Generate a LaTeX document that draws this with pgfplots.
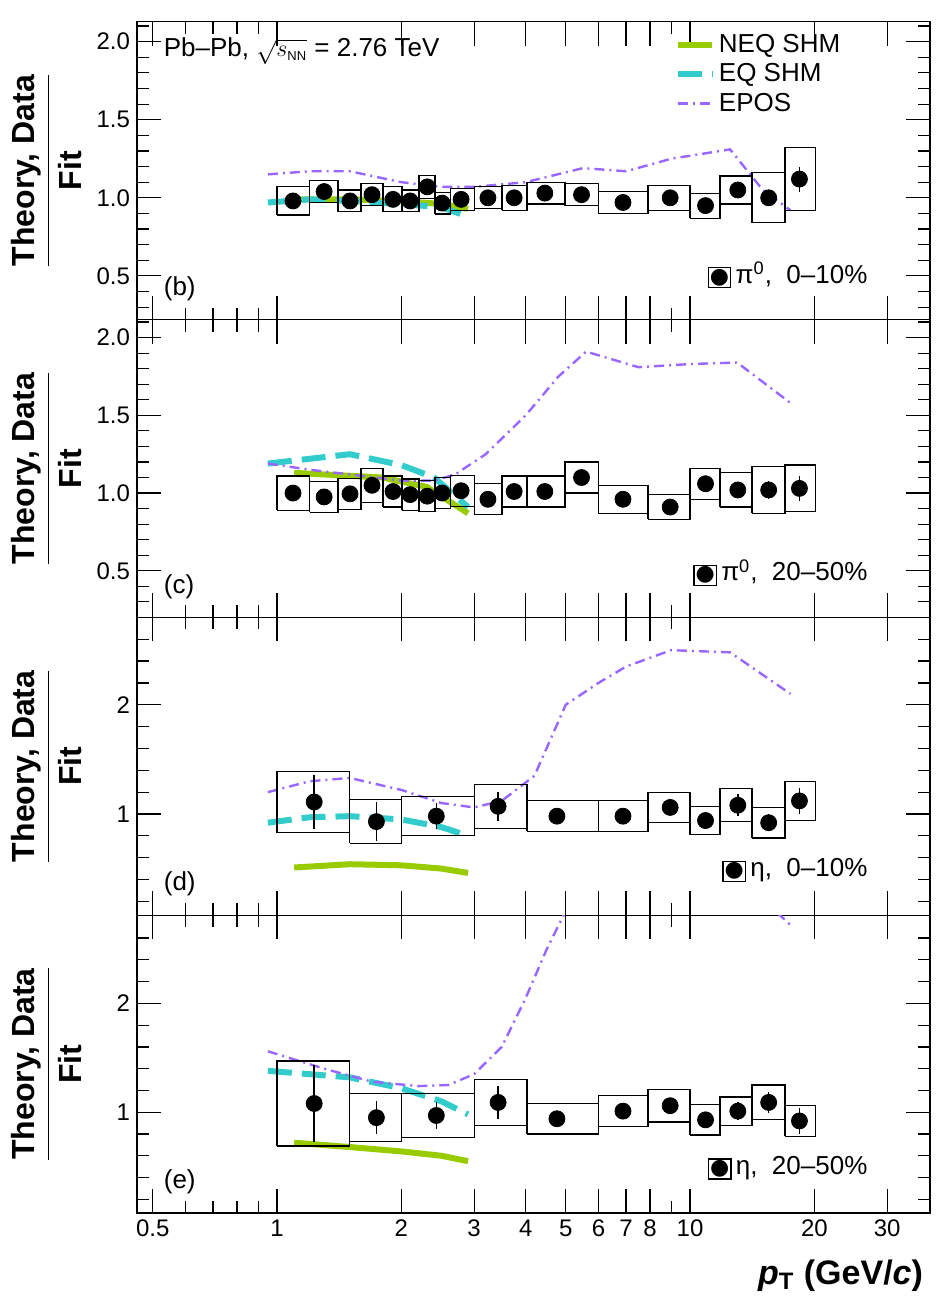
\documentclass[border=0pt]{standalone}
\usepackage{pgfplots}
\pgfplotsset{compat=1.18}
\usepgfplotslibrary{groupplots}
\usepackage{fontspec}
\setmainfont{Liberation Sans}
\newfontfamily\dejavu{DejaVu Sans}
\definecolor{neq}{HTML}{99CC00}
\definecolor{eq}{HTML}{33CCCC}
\definecolor{epos}{HTML}{9966FF}
\makeatletter
\newcommand\sbx[4]{\edef\blo{\strip@pt\dimexpr#3pt-#4pt\relax}\edef\bhi{\strip@pt\dimexpr#3pt+#4pt\relax}%
\edef\btmp{\noexpand\addplot[black,line width=0.6pt,forget plot,line join=miter] coordinates {(#1,\blo)(#2,\blo)(#2,\bhi)(#1,\bhi)(#1,\blo)};}\btmp}
\makeatother
\newcommand\lab[1]{\node[anchor=east,font=\fontsize{13}{15}\selectfont] at (rel axis cs:0.93,0.15) {{\setlength\fboxsep{0.5pt}\setlength\fboxrule{0.6pt}\fbox{\dejavu\fontsize{11}{11}\selectfont ●}}\,#1};}
\pgfplotsset{
 every axis/.append style={font=\fontsize{12}{14}\selectfont},
 dat/.style={only marks, mark=*, mark size=4pt, black, error bars/y dir=both, error bars/y explicit, error bars/error bar style={line width=0.8pt}, error bars/error mark=none},
 cneq/.style={neq, line width=3pt},
 ceq/.style={eq, line width=3pt, dash pattern=on 12pt off 5pt},
 cepos/.style={epos, line width=1.2pt, dash pattern=on 5pt off 2.5pt on 1pt off 2.5pt},
}
\begin{document}
\begin{tikzpicture}
\begin{pgfinterruptboundingbox}
\begin{groupplot}[group style={group size=1 by 4, vertical sep=0pt, xticklabels at=edge bottom},
 width=396.5pt, height=148.9pt, scale only axis,
 xmode=log, xmin=0.458, xmax=38.1, log basis x=10,
 xtick={0.5,1,2,3,4,5,6,7,8,10,20,30},
 xticklabels={0.5,1,2,3,4,5,6,7,8,10,20,30},
 minor xtick={0.6,0.7,0.8,0.9,9},
 tick align=inside, major tick length=12pt, minor tick length=6pt,
 xtick pos=both, ytick pos=both,
 /pgf/number format/assume math mode=true,
 yticklabel style={/pgf/number format/fixed,/pgf/number format/fixed zerofill,/pgf/number format/precision=1},
 ylabel={$\displaystyle\frac{\textbf{Theory, Data}}{\textbf{Fit}}$},
 ylabel style={font=\fontsize{16}{18}\selectfont\bfseries, at={(axis description cs:-0.168,0.5)}, anchor=north},
 axis line style={line width=0.6pt}, every tick/.style={line width=0.6pt, black}]
%% panel b
\nextgroupplot[ymin=0.22, ymax=2.127, ytick={0.5,1,1.5,2}, minor ytick={0.3,0.4,0.6,0.7,0.8,0.9,1.1,1.2,1.3,1.4,1.6,1.7,1.8,1.9,2.1},
 legend style={draw=none, fill=none, at={(axis description cs:0.9,0.985)}, anchor=north east, font=\fontsize{13}{13}\selectfont},
 legend cell align=left]
\addplot[cneq] coordinates {(1.1,0.99)(1.5,0.99)(2,0.98)(2.5,0.96)(2.9,0.93)};
\addlegendentry{NEQ SHM}
\addplot[ceq] coordinates {(0.95,0.97)(1.2,0.99)(1.5,0.98)(2,0.96)(2.5,0.94)(2.9,0.88)};
\addlegendentry{EQ SHM}
\addplot[cepos] coordinates {(0.95,1.15)(1.2,1.17)(1.5,1.17)(2,1.10)(2.5,1.07)(3,1.07)(4,1.1)(5.5,1.19)(7,1.17)(9,1.25)(12.5,1.31)(15,1.05)(17.5,0.92)};
\addlegendentry{EPOS}
\sbx{1.0}{1.2}{0.98}{0.09}\sbx{1.2}{1.405}{1.04}{0.07}\sbx{1.405}{1.597}{0.98}{0.07}\sbx{1.597}{1.806}{1.02}{0.07}
\sbx{1.806}{2.007}{0.99}{0.08}\sbx{2.007}{2.207}{0.98}{0.07}\sbx{2.207}{2.413}{1.07}{0.075}\sbx{2.413}{2.624}{0.966}{0.07}
\sbx{2.624}{3.0}{0.99}{0.07}\sbx{3.0}{3.505}{1.0}{0.07}\sbx{3.505}{4.03}{1.0}{0.08}\sbx{4.03}{4.98}{1.03}{0.07}
\sbx{4.98}{5.99}{1.02}{0.07}\sbx{5.99}{7.91}{0.97}{0.07}\sbx{7.91}{10}{1.0}{0.08}\sbx{10}{11.82}{0.95}{0.08}
\sbx{11.82}{14.13}{1.05}{0.09}\sbx{14.13}{16.98}{1.0}{0.16}\sbx{16.98}{20.1}{1.12}{0.2}
\addplot[dat] table[y error=e] {
x y e
1.093 0.98 0.01
1.30 1.04 0.01
1.502 0.98 0.01
1.698 1.02 0.01
1.909 0.99 0.01
2.10 0.98 0.01
2.31 1.07 0.01
2.51 0.966 0.01
2.79 0.99 0.01
3.24 1.0 0.01
3.75 1.0 0.01
4.45 1.03 0.01
5.46 1.02 0.01
6.88 0.97 0.01
8.95 1.0 0.01
10.9 0.95 0.02
13.05 1.05 0.03
15.5 1.0 0.03
18.4 1.12 0.08
};
\node[anchor=north west, font=\fontsize{13}{15}\selectfont] at (rel axis cs:0.025,0.97) {Pb--Pb, $\sqrt{s_{\scriptscriptstyle\mathrm{NN}}}$ = 2.76 TeV};
\node[anchor=south west, font=\fontsize{13}{15}\selectfont] at (rel axis cs:0.025,0.04) {(b)};
\lab{π\textsuperscript{0},\ \ 0--10\%}
%% panel c
\nextgroupplot[ymin=0.2, ymax=2.116, ytick={0.5,1,1.5,2}, minor ytick={0.3,0.4,0.6,0.7,0.8,0.9,1.1,1.2,1.3,1.4,1.6,1.7,1.8,1.9,2.1}]
\addplot[cneq] coordinates {(1.1,1.13)(1.8,1.1)(2.3,1.04)(2.9,0.87)};
\addplot[ceq] coordinates {(0.95,1.19)(1.5,1.25)(2,1.18)(2.4,1.1)(2.9,0.91)};
\addplot[cepos] coordinates {(0.95,1.19)(1.2,1.15)(1.5,1.12)(2,1.08)(2.4,1.08)(2.7,1.12)(3.2,1.25)(4,1.5)(4.8,1.75)(5.6,1.91)(7.5,1.81)(10,1.83)(13,1.84)(17.5,1.58)};
\sbx{1.0}{1.2}{1.0}{0.11}\sbx{1.2}{1.405}{0.975}{0.1}\sbx{1.405}{1.597}{0.995}{0.1}\sbx{1.597}{1.806}{1.05}{0.11}
\sbx{1.806}{2.007}{1.01}{0.1}\sbx{2.007}{2.207}{0.99}{0.1}\sbx{2.207}{2.413}{0.98}{0.1}\sbx{2.413}{2.624}{1.0}{0.1}
\sbx{2.624}{3.0}{1.015}{0.1}\sbx{3.0}{3.505}{0.96}{0.1}\sbx{3.505}{4.03}{1.01}{0.1}\sbx{4.03}{4.98}{1.01}{0.1}
\sbx{4.98}{5.99}{1.1}{0.1}\sbx{5.99}{7.91}{0.96}{0.09}\sbx{7.91}{10}{0.91}{0.08}\sbx{10}{11.82}{1.06}{0.1}
\sbx{11.82}{14.13}{1.02}{0.11}\sbx{14.13}{16.98}{1.02}{0.15}\sbx{16.98}{20.1}{1.03}{0.15}
\addplot[dat] table[y error=e] {
x y e
1.093 1.0 0.01
1.30 0.975 0.01
1.502 0.995 0.01
1.698 1.05 0.01
1.909 1.01 0.01
2.10 0.99 0.01
2.31 0.98 0.01
2.51 1.0 0.01
2.79 1.015 0.01
3.24 0.96 0.01
3.75 1.01 0.01
4.45 1.01 0.01
5.46 1.1 0.01
6.88 0.96 0.01
8.95 0.91 0.01
10.9 1.06 0.02
13.05 1.02 0.04
15.5 1.02 0.06
18.4 1.03 0.08
};
\node[anchor=south west, font=\fontsize{13}{15}\selectfont] at (rel axis cs:0.025,0.04) {(c)};
\lab{π\textsuperscript{0},\ \ 20--50\%}
%% panel d
\nextgroupplot[ymin=0.073, ymax=2.8, ytick={1,2}, yticklabels={1,2}, minor ytick={0.2,0.4,0.6,0.8,1.2,1.4,1.6,1.8,2.2,2.4,2.6}]
\addplot[cneq] coordinates {(1.1,0.51)(1.5,0.54)(2,0.53)(2.5,0.5)(2.9,0.46)};
\addplot[ceq] coordinates {(0.95,0.92)(1.2,0.97)(1.5,0.98)(2,0.95)(2.5,0.88)(2.9,0.8)};
\addplot[cepos] coordinates {(0.95,1.2)(1.2,1.3)(1.5,1.33)(2,1.22)(2.5,1.1)(3,1.06)(3.5,1.12)(4.2,1.35)(5,2.0)(6,2.2)(7,2.35)(9,2.5)(12.5,2.48)(17.5,2.1)};
\sbx{1.0}{1.5}{1.11}{0.28}\sbx{1.5}{2.0}{0.93}{0.2}\sbx{2.0}{3.0}{0.98}{0.18}\sbx{3.0}{4.03}{1.07}{0.2}
\sbx{4.03}{5.99}{0.98}{0.14}\sbx{5.99}{7.91}{0.98}{0.14}\sbx{7.91}{10}{1.06}{0.14}\sbx{10}{11.82}{0.94}{0.13}
\sbx{11.82}{14.13}{1.08}{0.15}\sbx{14.13}{16.98}{0.92}{0.14}\sbx{16.98}{20.1}{1.12}{0.18}
\addplot[dat] table[y error=e] {
x y e
1.23 1.11 0.25
1.74 0.93 0.18
2.43 0.98 0.12
3.43 1.07 0.13
4.76 0.98 0.05
6.88 0.98 0.05
8.95 1.06 0.05
10.9 0.94 0.05
13.05 1.08 0.1
15.5 0.92 0.08
18.4 1.12 0.12
};
\node[anchor=south west, font=\fontsize{13}{15}\selectfont] at (rel axis cs:0.025,0.04) {(d)};
\lab{η,\ \ 0--10\%}
%% panel e
\nextgroupplot[ymin=0.074, ymax=2.81, ytick={1,2}, yticklabels={1,2}, minor ytick={0.2,0.4,0.6,0.8,1.2,1.4,1.6,1.8,2.2,2.4,2.6},
 xlabel={\textbf{\textit{p}\textsubscript{T} (GeV/\textit{c})}},
 xlabel style={font=\fontsize{17}{19}\selectfont, at={(axis description cs:1,0)}, anchor=north east, yshift=-20pt}]
\addplot[cneq] coordinates {(1.1,0.72)(1.5,0.68)(2,0.64)(2.5,0.6)(2.9,0.55)};
\addplot[ceq] coordinates {(0.95,1.38)(1.5,1.32)(2,1.22)(2.5,1.1)(2.9,0.98)};
\addplot[cepos] coordinates {(0.95,1.56)(1.3,1.4)(1.7,1.28)(2.2,1.24)(2.6,1.25)(3,1.35)(3.5,1.6)(4,2.05)(4.5,2.5)(5,2.85)(6,3.3)(12,3.3)(17.5,2.72)};
\sbx{1.0}{1.5}{1.08}{0.39}\sbx{1.5}{2.0}{0.95}{0.22}\sbx{2.0}{3.0}{0.97}{0.2}\sbx{3.0}{4.03}{1.09}{0.21}
\sbx{4.03}{5.99}{0.94}{0.14}\sbx{5.99}{7.91}{1.01}{0.14}\sbx{7.91}{10}{1.06}{0.15}\sbx{10}{11.82}{0.93}{0.14}
\sbx{11.82}{14.13}{1.01}{0.13}\sbx{14.13}{16.98}{1.09}{0.16}\sbx{16.98}{20.1}{0.92}{0.14}
\addplot[dat] table[y error=e] {
x y e
1.23 1.08 0.35
1.74 0.95 0.15
2.43 0.97 0.12
3.43 1.09 0.15
4.76 0.94 0.05
6.88 1.01 0.04
8.95 1.06 0.05
10.9 0.93 0.05
13.05 1.01 0.08
15.5 1.09 0.1
18.4 0.92 0.12
};
\node[anchor=south west, font=\fontsize{13}{15}\selectfont] at (rel axis cs:0.025,0.04) {(e)};
\lab{η,\ \ 20--50\%}
\end{groupplot}
\end{pgfinterruptboundingbox}
\path[use as bounding box] ([shift={(-68.5pt,-47.5pt)}]group c1r4.south west) rectangle ([shift={(406.5pt,606.5pt)}]group c1r4.south west);
\end{tikzpicture}
\end{document}
